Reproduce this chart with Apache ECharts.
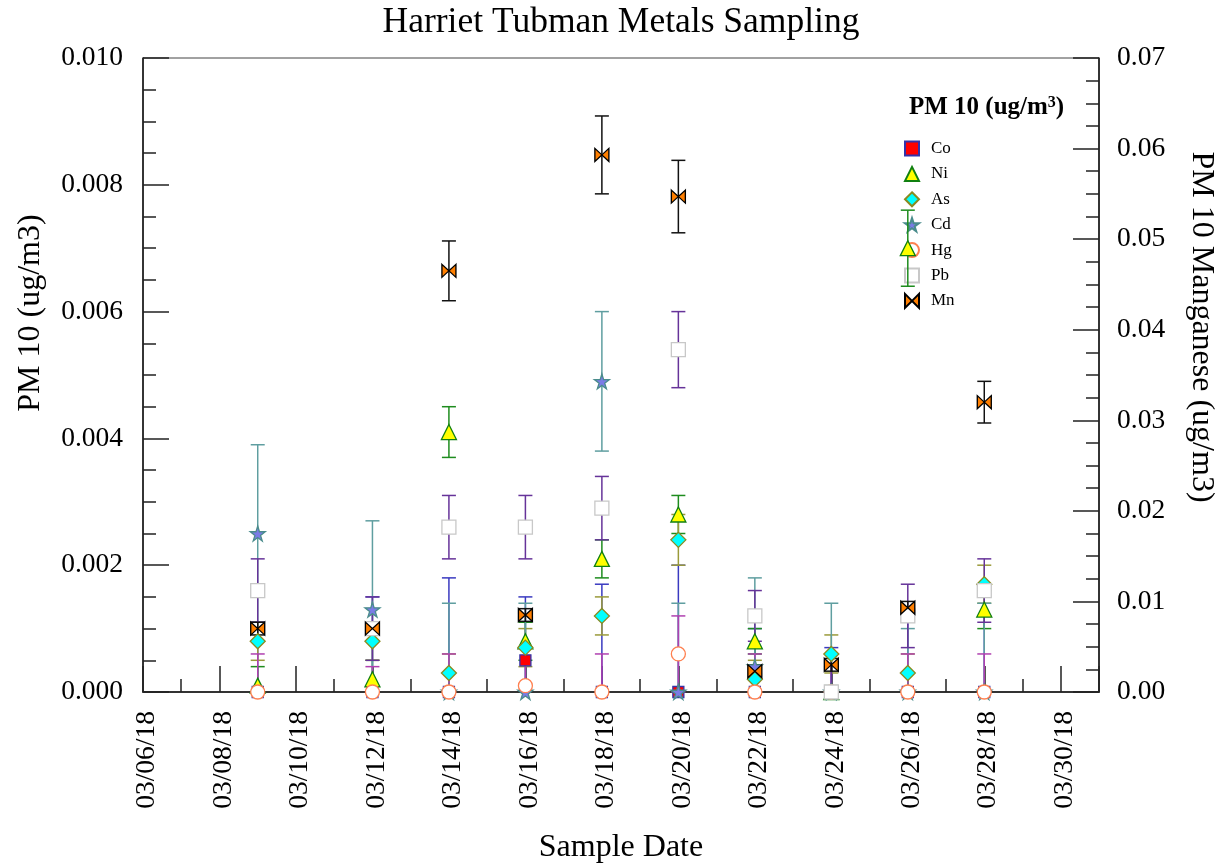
<!DOCTYPE html>
<html><head><meta charset="utf-8">
<script src="https://cdn.jsdelivr.net/npm/echarts@6/dist/echarts.min.js"></script>
<style>html,body{margin:0;padding:0;background:#fff}#c{width:1221px;height:867px}</style>
</head><body><div id="c"></div>
<script>
const sampleDates = ['03/09/18','03/12/18','03/14/18','03/16/18','03/18/18','03/20/18','03/22/18','03/24/18','03/26/18','03/28/18'];
const coValues = [0, 0, 0, 0.0005, 0, 0, 0, 0, 0, 0];
const coErrors = [0.0011, 0.0015, 0.0018, 0.0010, 0.0017, 0.0020, 0.0010, 0.0007, 0.0012, 0.0012];
const niValues = [0.0001, 0.0002, 0.0041, 0.0008, 0.0021, 0.0028, 0.0008, 0, 0.0070, 0.0013];
const niErrors = [0.0003, 0.0003, 0.0004, 0.0003, 0.0003, 0.0003, 0.0002, 0.0001, 0.0006, 0.0003];
const asValues = [0.0008, 0.0008, 0.0003, 0.0007, 0.0012, 0.0024, 0.0002, 0.0006, 0.0003, 0.0017];
const asErrors = [0.0003, 0.0003, 0.0003, 0.0003, 0.0003, 0.0004, 0.0003, 0.0003, 0.0003, 0.0003];
const cdValues = [0.0025, 0.0013, 0, 0, 0.0049, 0, 0.0004, 0, 0, 0];
const cdErrors = [0.0014, 0.0014, 0.0014, 0.0014, 0.0011, 0.0014, 0.0014, 0.0014, 0.0010, 0.0014];
const hgValues = [0, 0, 0, 0.0001, 0, 0.0006, 0, 0, 0, 0];
const hgErrors = [0.0006, 0.0004, 0.0006, 0.0006, 0.0006, 0.0006, 0.0006, 0.0006, 0.0006, 0.0006];
const pbValues = [0.0016, 0.0010, 0.0026, 0.0026, 0.0029, 0.0054, 0.0012, 0, 0.0012, 0.0016];
const pbErrors = [0.0005, 0.0005, 0.0005, 0.0005, 0.0005, 0.0006, 0.0004, 0.0006, 0.0005, 0.0005];
const mnValues = [0.0070, 0.0070, 0.0465, 0.0085, 0.0593, 0.0547, 0.0023, 0.0030, 0.0093, 0.0320];
const mnErrors = [0.0007, 0.0007, 0.0033, 0.0007, 0.0043, 0.0040, 0.0007, 0.0007, 0.0007, 0.0023];

const FONT = '"Times New Roman","Liberation Serif",serif';
const days = sampleDates.map(s => parseInt(s.split('/')[1], 10));
const pts = vals => days.map((d, i) => [d, vals[i]]);
const errPts = (vals, es) => days.map((d, i) => [d, vals[i], es[i]]);
const pad = n => (n < 10 ? '0' : '') + n;

function errRender(color) {
  return function (params, api) {
    const x = api.value(0), v = api.value(1), e = api.value(2);
    const lo = Math.max(0, v - e), hi = v + e;
    const pLo = api.coord([x, lo]), pHi = api.coord([x, hi]);
    const hw = 7;
    const st = { stroke: color, lineWidth: 1.5 };
    const ch = [
      { type: 'line', shape: { x1: pLo[0], y1: pLo[1], x2: pHi[0], y2: pHi[1] }, style: st },
      { type: 'line', shape: { x1: pHi[0] - hw, y1: pHi[1], x2: pHi[0] + hw, y2: pHi[1] }, style: st }
    ];
    if (v - e >= -1e-12) ch.push({ type: 'line', shape: { x1: pLo[0] - hw, y1: pLo[1], x2: pLo[0] + hw, y2: pLo[1] }, style: st });
    return { type: 'group', children: ch };
  };
}

const STAR = 'path://M50,0 L61,35 L98,35 L68,57 L79,91 L50,70 L21,91 L32,57 L2,35 L39,35 Z';
const BOWTIE = 'path://M0,0 L10,10 L0,20 Z M20,0 L10,10 L20,20 Z';

const metals = [
  { name: 'Co', vals: coValues, errs: coErrors, err: '#3a3ac0', symbol: 'rect', size: 11, fill: '#ff0000', border: '#3333aa', y: 0 },
  { name: 'Ni', vals: niValues, errs: niErrors, err: '#1e8c1e', symbol: 'triangle', size: 15, fill: '#ffff00', border: '#108010', y: 0 },
  { name: 'As', vals: asValues, errs: asErrors, err: '#9a9a3a', symbol: 'diamond', size: 15, fill: '#00ffff', border: '#8a8a20', y: 0 },
  { name: 'Cd', vals: cdValues, errs: cdErrors, err: '#5f9ea0', symbol: STAR, size: 15, fill: '#7b7be6', border: '#4a8c8c', y: 0 },
  { name: 'Hg', vals: hgValues, errs: hgErrors, err: '#b040b0', symbol: 'circle', size: 14, fill: '#ffffff', border: '#ff8050', y: 0 },
  { name: 'Pb', vals: pbValues, errs: pbErrors, err: '#663399', symbol: 'rect', size: 14, fill: '#ffffff', border: '#c8c8c8', y: 0 },
  { name: 'Mn', vals: mnValues, errs: mnErrors, err: '#111111', symbol: BOWTIE, size: [14, 13], fill: '#ff7f00', border: '#000000', y: 1 }
];

const series = [];
metals.forEach(m => {
  series.push({
    name: m.name + ' error', type: 'custom', yAxisIndex: m.y, z: 2, silent: true,
    renderItem: errRender(m.err), encode: { x: 0, y: 1 }, data: errPts(m.vals, m.errs)
  });
});
metals.forEach((m, i) => {
  series.push({
    name: m.name, type: 'scatter', yAxisIndex: m.y, z: 3 + i * 0.01,
    symbol: m.symbol, symbolSize: m.size,
    itemStyle: { color: m.fill, borderColor: m.border, borderWidth: 1.3, opacity: 1 },
    data: pts(m.vals)
  });
});

const tickStyle = { color: '#222', width: 1.5 };
const chart = echarts.init(document.getElementById('c'), null, { renderer: 'canvas' });
chart.setOption({
  animation: false,
  backgroundColor: '#fff',
  textStyle: { fontFamily: FONT, color: '#000' },
  grid: { left: 143, right: 122, top: 58, bottom: 175, outerBoundsMode: 'none', containLabel: false,
    show: true, borderColor: '#444', borderWidth: 1, backgroundColor: 'transparent' },
  graphic: [
    { type: 'text', x: 621, y: 23, style: { text: 'Harriet Tubman Metals Sampling', font: '35.5px ' + FONT, fill: '#000', textAlign: 'center', textVerticalAlign: 'middle' } },
    { type: 'text', left: 909, top: 95, style: { text: '{b|PM 10 (ug/m}{s|3}{b|)}', rich: {
        b: { fontFamily: FONT, fontWeight: 'bold', fontSize: 25, fill: '#000', verticalAlign: 'bottom' },
        s: { fontFamily: FONT, fontWeight: 'bold', fontSize: 16, fill: '#000', verticalAlign: 'top' } } } }
  ],
  legend: {
    data: metals.map(m => ({ name: m.name, icon: m.symbol })),
    orient: 'vertical', left: 904, top: 140, padding: 0, z: 1,
    itemWidth: 14, itemHeight: 14, itemGap: 8.4,
    textStyle: { fontFamily: FONT, fontSize: 17, color: '#000', lineHeight: 14, padding: [0, 0, 0, 7] },
    selectedMode: false
  },
  xAxis: [
    {
      type: 'value', min: 6, max: 31, interval: 2,
      name: 'Sample Date', nameLocation: 'middle', nameGap: 140,
      nameTextStyle: { fontFamily: FONT, fontSize: 32, color: '#000' },
      axisLine: { show: true, lineStyle: { color: '#333', width: 2 } },
      axisTick: { show: true, inside: true, length: 26, lineStyle: tickStyle },
      splitLine: { show: false },
      axisLabel: { rotate: 90, margin: 19, verticalAlign: 'top', lineHeight: 8, fontFamily: FONT, fontSize: 27.5, color: '#000',
        formatter: v => (v > 30 ? '' : '03/' + pad(v) + '/18') }
    },
    {
      type: 'value', min: 6, max: 31, interval: 1, position: 'bottom',
      axisLine: { show: false }, axisLabel: { show: false }, splitLine: { show: false },
      axisTick: { show: true, inside: true, length: 13, lineStyle: tickStyle }
    }
  ],
  yAxis: [
    {
      type: 'value', min: 0, max: 0.01, interval: 0.002, position: 'left',
      name: 'PM 10 (ug/m3)', nameLocation: 'middle', nameGap: 96, nameRotate: 90,
      nameTextStyle: { fontFamily: FONT, fontSize: 32, color: '#000', padding: [0, 0, 0, 124] },
      axisLine: { show: true, lineStyle: { color: '#111', width: 1.5 } },
      axisTick: { show: true, inside: true, length: 26, lineStyle: tickStyle },
      minorTick: { show: true, splitNumber: 4, length: 13, lineStyle: tickStyle },
      splitLine: { show: false },
      axisLabel: { margin: 20, fontFamily: FONT, fontSize: 27.5, color: '#000', formatter: v => v.toFixed(3) }
    },
    {
      type: 'value', min: 0, max: 0.07, interval: 0.01, position: 'right',
      name: 'PM 10 Manganese (ug/m3)', nameLocation: 'middle', nameGap: 86, nameRotate: -90,
      nameTextStyle: { fontFamily: FONT, fontSize: 32, color: '#000', padding: [0, 96, 0, 0] },
      axisLine: { show: true, lineStyle: { color: '#111', width: 1.5 } },
      axisTick: { show: true, inside: true, length: 26, lineStyle: tickStyle },
      minorTick: { show: true, splitNumber: 4, length: 13, lineStyle: tickStyle },
      splitLine: { show: false },
      axisLabel: { margin: 18, fontFamily: FONT, fontSize: 27.5, color: '#000', formatter: v => v.toFixed(2) }
    }
  ],
  series: series
});
</script></body></html>
